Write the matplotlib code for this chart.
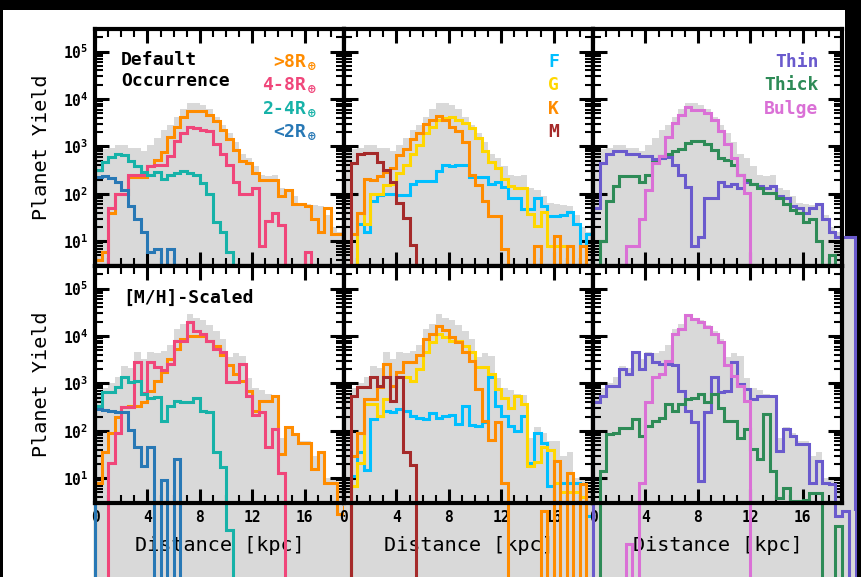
import matplotlib.pyplot as plt
import numpy as np
from matplotlib.patches import Rectangle
from matplotlib.ticker import MultipleLocator, LogLocator, NullFormatter

plt.rcParams['font.family'] = 'DejaVu Sans Mono'
plt.rcParams['font.weight'] = 'bold'
plt.rcParams['mathtext.fontset'] = 'custom'
plt.rcParams['mathtext.rm'] = 'DejaVu Sans Mono:bold'
plt.rcParams['mathtext.it'] = 'DejaVu Sans Mono:bold'
plt.rcParams['mathtext.bf'] = 'DejaVu Sans Mono:bold'
plt.rcParams['axes.linewidth'] = 3

# 0.5 kpc bins from 0 to 20 kpc
edges = np.arange(0, 20.5, 0.5)

# ---- default occurrence (top row) ----
total_default = [790, 890, 910, 1050, 1050, 910, 910, 790, 1070, 1480, 2240, 2880, 4270, 6030,
                 8130, 8130, 7590, 6030, 4270, 2880, 1900, 1260, 700, 570, 380, 250, 235, 250,
                 130, 123, 90, 63, 60, 58, 55, 35, 20, 16, 13, 12]
default_gt8 = [4, 6, 40, 100, 100, 230, 230, 230, 380, 520, 760, 1600, 2600, 4200, 5500, 5500,
               5500, 4500, 3500, 2200, 1400, 830, 500, 450, 280, 200, 200, 200, 90, 120, 60, 60,
               55, 30, 16, 50, 14, 14, 14, 14]
default_4to8 = [0, 0, 50, 100, 100, 250, 250, 250, 380, 400, 400, 630, 1300, 1900, 2600, 2400,
                2200, 2100, 1100, 680, 400, 180, 100, 100, 130, 8, 27, 40, 22, 0, 0, 0, 6, 0,
                0, 0, 0, 0, 0, 0]
default_2to4 = [320, 460, 600, 700, 650, 500, 380, 290, 250, 290, 210, 250, 280, 300, 280, 250,
                170, 100, 26, 16, 6, 0, 0, 0, 0, 0, 0, 0, 0, 0, 0, 0, 0, 0, 0, 0, 0, 0, 0, 0]
default_lt2 = [230, 240, 220, 180, 120, 55, 30, 16, 6, 7, 0, 7, 0, 0, 0, 0, 0, 0, 0, 0, 0, 0,
               0, 0, 0, 0, 0, 0, 0, 0, 0, 0, 0, 0, 0, 0, 0, 0, 0, 0]
default_F = [0, 3, 23, 16, 70, 95, 100, 100, 95, 95, 160, 185, 185, 190, 300, 400, 380, 400, 400,
             230, 230, 230, 160, 175, 140, 80, 80, 48, 48, 80, 55, 34, 34, 36, 42, 23, 8, 14, 10, 5]
default_G = [0, 3, 40, 23, 100, 100, 150, 160, 280, 400, 680, 1070, 1900, 2600, 3600, 3900, 4200,
             3600, 3100, 2400, 1500, 800, 480, 350, 210, 145, 130, 130, 37, 21, 42, 8, 8, 8, 0,
             0, 0, 0, 0, 0]
default_K = [3, 14, 40, 210, 200, 235, 290, 350, 650, 900, 1400, 1900, 2900, 3600, 4300, 3600,
             2600, 2100, 1250, 250, 150, 70, 34, 34, 7, 0, 0, 0, 0, 8, 0, 0, 13, 0, 8, 0, 8, 0, 0, 0]
default_M = [0, 450, 680, 720, 720, 480, 320, 180, 65, 31, 8.5, 0, 0, 0, 0, 0, 0, 0, 0, 0, 0, 0,
             0, 0, 0, 0, 0, 0, 0, 0, 0, 0, 0, 0, 0, 0, 0, 0, 0, 0]
default_thin = [50, 450, 680, 800, 800, 680, 680, 630, 630, 540, 560, 600, 400, 250, 140, 8, 12,
                83, 83, 180, 145, 160, 130, 180, 160, 145, 130, 145, 90, 83, 55, 50, 40, 50, 60,
                30, 16, 12, 12, 12]
default_thick = [0, 10, 70, 145, 235, 235, 235, 180, 250, 480, 620, 680, 800, 900, 1180, 1290,
                 1290, 1100, 850, 560, 520, 410, 250, 195, 165, 130, 105, 105, 80, 60, 45, 40,
                 25, 30, 10, 0, 5, 0, 0, 0]
default_bulge = [0, 0, 0, 0, 0, 8, 8, 30, 120, 450, 620, 1600, 3100, 4700, 6900, 5900, 5900,
                 5000, 3600, 2100, 1100, 560, 250, 105, 0, 0, 0, 0, 0, 0, 0, 0, 0, 0, 0, 0, 0,
                 0, 0, 0]

# ---- [M/H]-scaled (bottom row) ----
total_scaled = [600, 800, 1000, 1350, 2300, 2100, 4700, 3200, 4700, 4400, 4800, 6500, 14000,
                17500, 29500, 24000, 21500, 17000, 12500, 8500, 3600, 4400, 3800, 1300, 800, 710,
                600, 560, 70, 120, 90, 60, 60, 30, 35, 10, 9, 6, 4, 2]
scaled_gt8 = [8, 35, 90, 200, 316, 340, 340, 400, 700, 1150, 1700, 3300, 5400, 8700, 10000,
              10000, 10000, 7900, 6300, 3900, 2400, 1600, 1150, 700, 260, 430, 430, 550, 32, 120,
              85, 56, 56, 16, 35, 8, 8, 1.8, 2.5, 0]
scaled_4to8 = [0, 0, 21, 90, 320, 320, 2800, 630, 2800, 2200, 1900, 2600, 7900, 7900, 19500,
               13000, 11000, 8000, 5400, 4600, 1050, 1050, 2600, 550, 220, 250, 45, 110, 13, 0,
               0, 0, 0, 0, 0, 0, 0, 0, 0, 0]
scaled_2to4 = [340, 650, 650, 830, 1350, 1050, 1150, 600, 500, 520, 160, 340, 430, 400, 400, 500,
               260, 245, 35, 17, 0.8, 0, 0, 0, 0, 0, 0, 0, 0, 0, 0, 0, 0, 0, 0, 0, 0, 0, 0, 0]
scaled_lt2 = [290, 270, 260, 245, 245, 105, 45, 18, 45, 0, 9, 0, 25, 0, 0, 0, 0, 0, 0, 0, 0, 0,
              0, 0, 0, 0, 0, 0, 0, 0, 0, 0, 0, 0, 0, 0, 0, 0, 0, 0]
scaled_F = [0, 11, 35, 15, 180, 210, 260, 250, 290, 260, 210, 190, 180, 240, 190, 210, 220, 140,
            340, 130, 125, 150, 1350, 340, 210, 125, 100, 210, 21, 90, 56, 7, 8, 8, 8, 8, 4, 1.6,
            0, 0]
scaled_G = [0, 7, 21, 360, 360, 210, 470, 890, 1350, 1350, 1150, 2000, 4600, 7400, 11200, 9500,
            7900, 7900, 6300, 4600, 2200, 2200, 1600, 760, 500, 310, 550, 360, 18, 22, 45, 40, 8,
            5, 5, 5, 4, 3, 0, 0]
scaled_K = [0, 30, 90, 470, 470, 830, 2600, 890, 1700, 2800, 2800, 3900, 8700, 11000, 16600,
            13200, 9500, 7400, 4600, 3000, 760, 160, 63, 150, 8, 0, 0, 0, 0, 0, 2, 0, 23, 0, 13,
            0, 7.4, 0, 0, 0]
scaled_M = [0, 550, 830, 830, 1350, 890, 1350, 430, 1350, 35, 19, 0, 0, 0, 0, 0, 0, 0, 0, 0, 0,
            0, 0, 0, 0, 0, 0, 0, 0, 0, 0, 0, 0, 0, 0, 0, 0, 0, 0, 0]
scaled_thin = [400, 550, 890, 890, 2000, 1600, 4600, 2000, 4200, 2800, 2600, 2600, 2400, 700, 260,
               150, 8.7, 250, 1350, 650, 700, 2800, 980, 760, 470, 550, 550, 550, 37, 107, 78, 52,
               52, 8, 23, 8, 7.4, 1.6, 2, 0]
scaled_thick = [0, 14, 85, 91, 117, 117, 178, 78, 126, 162, 190, 360, 260, 360, 470, 500, 600,
                400, 600, 310, 162, 162, 72, 107, 41, 25, 224, 14, 3.9, 6.3, 3.3, 3.3, 3.4, 4.9,
                4.9, 0, 0, 1.0, 0, 0]
scaled_bulge = [0, 0, 0, 0, 0, 0.4, 0, 8, 400, 1350, 1600, 3000, 11200, 14000, 27500, 23000,
                19500, 15500, 11200, 7400, 2400, 1450, 890, 430, 0, 0, 0, 0, 0, 0, 0, 0, 0, 0, 0,
                0, 0, 0, 0, 0]

size_labels = ['>8R$_\\oplus$', '4-8R$_\\oplus$', '2-4R$_\\oplus$', '<2R$_\\oplus$']
size_colors = ['#ff8c00', '#f0467a', '#17b2a8', '#2878b5']
star_labels = ['F', 'G', 'K', 'M']
star_colors = ['#00bfff', '#ffd700', '#ff8c00', '#a52a2a']
pop_labels = ['Thin', 'Thick', 'Bulge']
pop_colors = ['#6a5acd', '#2e8b57', '#da70d6']

rows = [
    (total_default, [[default_gt8, default_4to8, default_2to4, default_lt2],
                     [default_F, default_G, default_K, default_M],
                     [default_thin, default_thick, default_bulge]]),
    (total_scaled, [[scaled_gt8, scaled_4to8, scaled_2to4, scaled_lt2],
                    [scaled_F, scaled_G, scaled_K, scaled_M],
                    [scaled_thin, scaled_thick, scaled_bulge]]),
]
col_colors = [size_colors, star_colors, pop_colors]
col_labels = [size_labels, star_labels, pop_labels]
label_x = [0.891, 0.863, 0.906]
label_y = [0.861, 0.765, 0.664, 0.567]

W, H = 861, 577
fig = plt.figure(figsize=(W / 100, H / 100), dpi=100, facecolor='black')
fig.add_artist(Rectangle((3 / W, 0), 842 / W, 567 / H, transform=fig.transFigure,
                         facecolor='white', edgecolor='none', zorder=-10))

x0, w = 95, 249
tops = [29, 266]
h = 237
for r, (total, cols) in enumerate(rows):
    for c in range(3):
        left = x0 + c * w
        ax = fig.add_axes([left / W, 1 - (tops[r] + h) / H, w / W, h / H])
        ax.stairs(total, edges, fill=True, color='#d9d9d9', clip_on=False, zorder=1)
        for vals, col in zip(cols[c], col_colors[c]):
            ax.stairs(vals, edges, color=col, lw=2.2, clip_on=False, zorder=2)
        ax.set_yscale('log')
        ax.set_xlim(0, 19)
        ax.set_ylim(3, 3e5)
        ax.xaxis.set_major_locator(MultipleLocator(4))
        ax.xaxis.set_minor_locator(MultipleLocator(1))
        ax.yaxis.set_major_locator(LogLocator(base=10, numticks=12))
        ax.yaxis.set_minor_locator(LogLocator(base=10, subs=np.arange(2, 10), numticks=12))
        ax.yaxis.set_minor_formatter(NullFormatter())
        ax.tick_params(which='both', direction='in', top=True, right=True)
        ax.tick_params(which='major', length=10, width=2.2, labelsize=10.5, pad=5)
        ax.tick_params(which='minor', length=5.5, width=1.5)
        if c > 0:
            ax.tick_params(labelleft=False)
        else:
            ax.set_ylabel('Planet Yield', fontsize=14.5, labelpad=8)
        if r == 0:
            ax.tick_params(labelbottom=False)
        else:
            ax.set_xlabel('Distance [kpc]', fontsize=14.5, labelpad=8)
        if r == 0:
            for lab, col, yy in zip(col_labels[c], col_colors[c], label_y):
                ax.text(label_x[c], yy, lab, color=col, fontsize=13, ha='right',
                        va='center', transform=ax.transAxes)

    if r == 0:
        fig.axes[0].text(0.105, 0.824, 'Default\nOccurrence', fontsize=13, ha='left',
                         va='center', transform=fig.axes[0].transAxes)
    else:
        fig.axes[3].text(0.112, 0.867, '[M/H]-Scaled', fontsize=13, ha='left',
                         va='center', transform=fig.axes[3].transAxes)

fig.savefig('out.png', dpi=100, facecolor=fig.get_facecolor())
